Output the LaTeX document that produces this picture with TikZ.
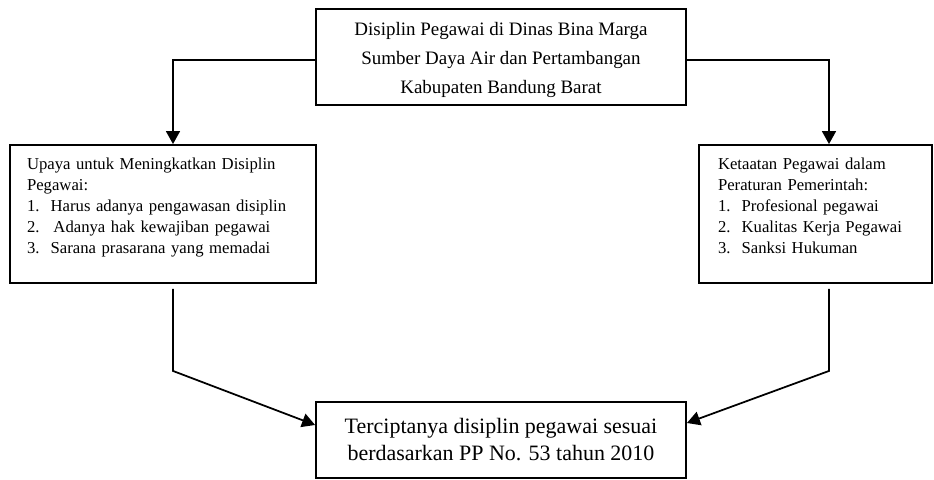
\documentclass[tikz,border=0pt]{standalone}
\usepackage{fontspec}
\setmainfont{Liberation Serif}
\usetikzlibrary{arrows.meta,positioning}

\begin{document}
\begin{tikzpicture}[
    x=0.02cm, y=-0.02cm,
    box/.style={rectangle, draw, line width=1.1pt, inner sep=0pt, align=center},
    listbox/.style={rectangle, draw, line width=1.1pt, minimum height=2.76cm,
                    align=left, font=\fontsize{9.5}{11.95}\selectfont},
    arrow/.style={-{Triangle[length=0.26cm, width=0.28cm]}, line width=1pt}
]
\useasboundingbox (0,0) rectangle (934,480);

\node[box, minimum width=7.4cm, minimum height=1.92cm,
      font=\fontsize{10.8}{16.6}\selectfont] (dinas) at (501,57)
    {\rule{0pt}{11pt}Disiplin Pegawai di Dinas Bina Marga\\
     Sumber Daya Air dan Pertambangan\\
     Kabupaten Bandung Barat};

\node[listbox, inner xsep=0.34cm, text width=5.44cm] (upaya) at (163,214)
    {Upaya untuk Meningkatkan Disiplin\\
     Pegawai:\\
     1.\ \ Harus adanya pengawasan disiplin\\
     2.\ \ \,Adanya hak kewajiban pegawai\\
     3.\ \ Sarana prasarana yang memadai\rule[-9pt]{0pt}{9pt}};

\node[listbox, inner xsep=0.38cm, text width=3.9cm] (ketaatan) at (815.5,214)
    {Ketaatan Pegawai dalam\\
     Peraturan Pemerintah:\\
     1.\ \ Profesional pegawai\\
     2.\ \ Kualitas Kerja Pegawai\\
     3.\ \ Sanksi Hukuman\rule[-9pt]{0pt}{9pt}};

\node[box, minimum width=7.4cm, minimum height=1.52cm,
      font=\fontsize{12.5}{15.4}\selectfont] (hasil) at (501,440)
    {Terciptanya disiplin pegawai sesuai\\
     berdasarkan PP No. 53 tahun 2010};

% Top box to the two sides
\draw[arrow] ([yshift=-0.06cm]dinas.west) -| ([xshift=0.2cm]upaya.north);
\draw[arrow] ([yshift=-0.06cm]dinas.east) -| ([xshift=0.27cm]ketaatan.north);

% Sides to the result
\draw[arrow] ([xshift=0.2cm, yshift=-0.1cm]upaya.south) -- ++(0,82)
    -- ([yshift=0.3cm]hasil.west);
\draw[arrow] ([xshift=0.27cm, yshift=-0.1cm]ketaatan.south) -- ++(0,82)
    -- ([yshift=0.34cm]hasil.east);

\end{tikzpicture}
\end{document}
